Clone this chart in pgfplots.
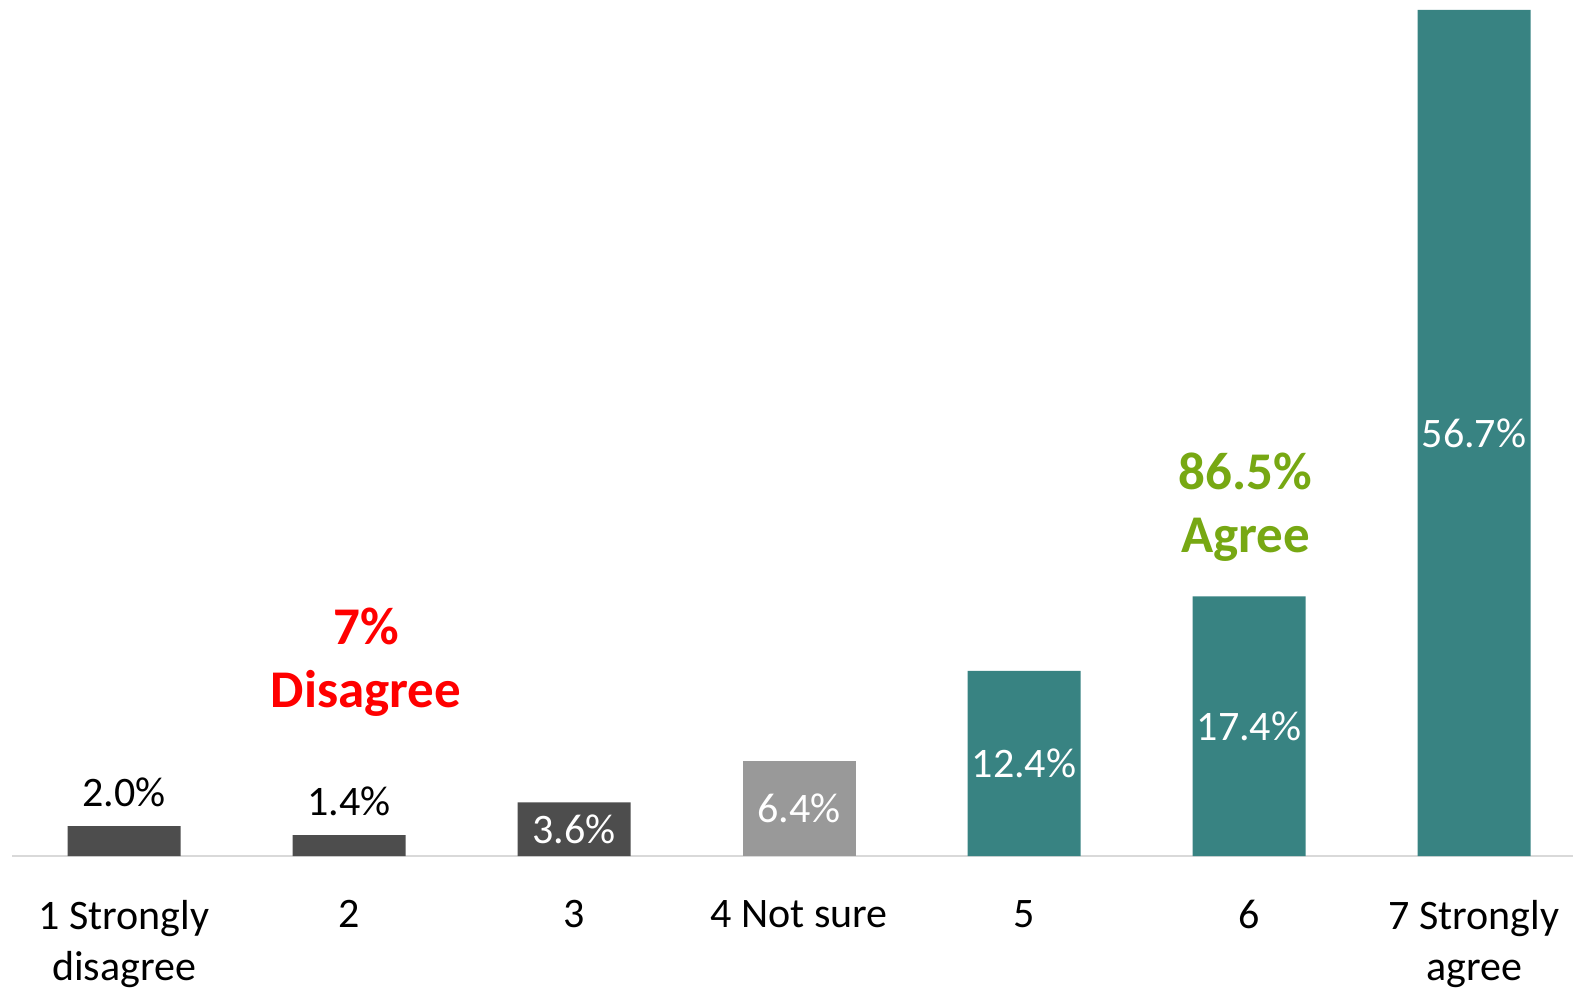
\documentclass[border=0pt]{standalone}
\usepackage{pgfplots}
\pgfplotsset{compat=1.18}
\usepackage{pgfplotstable}
\usepackage{fontspec}
\setmainfont{Carlito}

\definecolor{darkbar}{HTML}{4D4D4D}
\definecolor{greybar}{HTML}{999999}
\definecolor{tealbar}{HTML}{388382}
\definecolor{agreegreen}{HTML}{77A813}
\definecolor{axisgrey}{HTML}{D9D9D9}

\pgfplotstableread{
x v
0 2.0
1 1.4
2 3.6
3 6.4
4 12.4
5 17.4
6 56.7
}\data

\pgfplotsset{pctlabel/.style={
  nodes near coords={\pgfmathprintnumber[fixed,fixed zerofill,precision=1,assume math mode=true]{\pgfplotspointmeta}\%},
  every node near coord/.append style={font=\fontsize{21bp}{25bp}\selectfont}}}

\begin{document}
\begin{tikzpicture}
\begin{axis}[
  scale only axis,
  width=780.5bp, height=423bp,
  xmin=-0.4978, xmax=6.44,
  ymin=0, ymax=56.7,
  enlargelimits=false,
  clip=false,
  ybar, bar width=56.5bp, bar shift=0pt,
  axis x line*=bottom,
  hide y axis,
  axis line style={draw=axisgrey, line width=1bp, -},
  xtick={0,...,6},
  major tick length=0pt,
  xticklabels={{1 Strongly\\disagree},2,3,4 Not sure,5,6,{7 Strongly\\agree}},
  xticklabel style={align=center, anchor=north, inner sep=0pt, yshift=-22bp,
    font=\fontsize{21bp}{25.5bp}\selectfont},
]
\addplot[fill=darkbar, draw=none, restrict x to domain=-0.5:2.5] table[x=x,y=v]{\data};
\addplot[fill=greybar, draw=none, restrict x to domain=2.5:3.5] table[x=x,y=v]{\data};
\addplot[fill=tealbar, draw=none, restrict x to domain=3.5:6.5] table[x=x,y=v]{\data};
% labels above the two small bars
\addplot[draw=none, fill=none, restrict x to domain=-0.5:1.5, pctlabel,
  every node near coord/.append style={text=black, yshift=6bp}]
  table[x=x,y=v]{\data};
% labels in the middle of the other bars
\addplot[draw=none, fill=none, restrict x to domain=1.5:6.5, pctlabel,
  point meta=\thisrow{v}, nodes near coords align={center},
  every node near coord/.append style={text=white, anchor=center}]
  table[x=x,y expr=\thisrow{v}/2]{\data};

\node[align=center, text=red, font=\bfseries\fontsize{26.5bp}{31.5bp}\selectfont]
  at (axis cs:1.075,13.0) {7\%\\Disagree};
\node[align=center, text=agreegreen, font=\bfseries\fontsize{26.5bp}{31.5bp}\selectfont]
  at (axis cs:4.985,23.4) {86.5\%\\Agree};
\end{axis}
\pgfresetboundingbox
\path[use as bounding box] (-6bp,-67bp) rectangle (780.5bp,428bp);
\end{tikzpicture}
\end{document}
